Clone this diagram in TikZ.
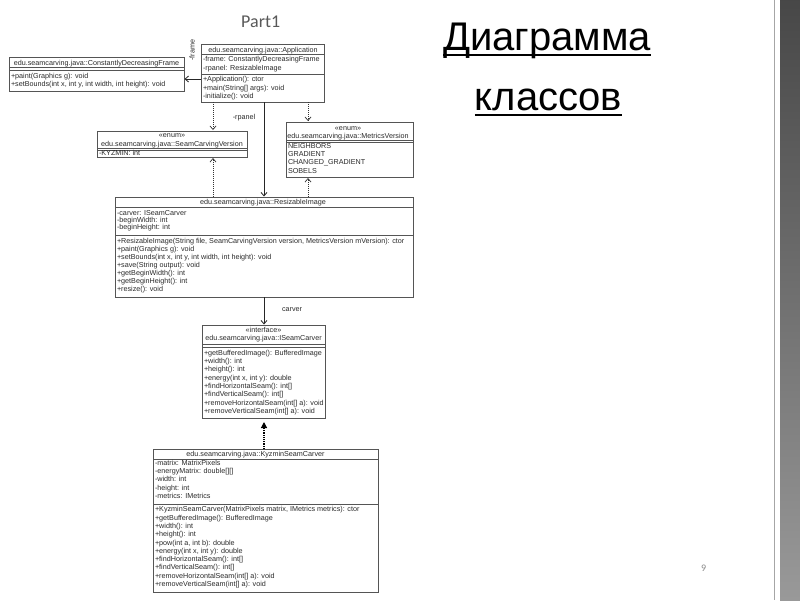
\documentclass[tikz,border=0pt]{standalone}
\usepackage{fontspec}
\setmainfont{Liberation Sans}
\newfontfamily\umlfont{Liberation Sans}
\newfontfamily\slidefont{Carlito}
\usetikzlibrary{arrows.meta,shadows,calc}
\definecolor{umltext}{HTML}{2A2A2A}
\definecolor{umlline}{HTML}{555555}
\definecolor{parttext}{HTML}{595959}
\definecolor{pagenum}{HTML}{8A8A8A}
\tikzset{
  umlbox/.style={draw=umlline, line width=0.6pt, fill=white, inner sep=0pt, outer sep=0pt, anchor=north west,
    general shadow={fill=black!85, shadow xshift=1.3pt, shadow yshift=-1.3pt}},
  umltxt/.style={font=\umlfont\fontsize{7.2}{8.2}\selectfont, text=umltext, inner sep=0pt, outer sep=0pt, align=left, anchor=north west,
    execute at begin node={\rule{0pt}{6pt}}},
  umlname/.style={font=\umlfont\fontsize{7.2}{8.2}\selectfont, text=umltext, inner sep=0pt, outer sep=0pt, anchor=base},
  umllabel/.style={font=\umlfont\fontsize{7.2}{8.2}\selectfont, text=umltext, inner sep=0pt, outer sep=0pt},
  sepline/.style={draw=umlline, line width=0.6pt},
  assoc/.style={draw=black!85, line width=0.8pt, -{Straight Barb[length=3.5pt,width=6pt]}, shorten >=0.5pt},
  depend/.style={draw=black!80, line width=0.7pt, dash pattern=on 1pt off 1pt, -{Straight Barb[length=3.5pt,width=6pt]}, shorten >=1pt},
  realize/.style={draw=black, line width=1.2pt, dash pattern=on 1.2pt off 1pt, -{Triangle[length=6pt,width=6pt]}, shorten >=4pt},
  titletxt/.style={font=\fontsize{40}{48}\selectfont, text=black, inner sep=0pt, outer sep=0pt, anchor=base},
}
\begin{document}
\begin{tikzpicture}[x=1pt,y=-1pt]
\useasboundingbox (0,0) rectangle (800,600);
\fill[white] (0,0) rectangle (800,600);

% right decoration
\draw[line width=1.5pt, black!35] (774.5,0) -- (774.5,600);
\shade[top color=black!72, middle color=black!95, bottom color=black!40] (780,0) rectangle (800,600);

% titles
\node[anchor=base west, font=\slidefont\fontsize{18}{21}\selectfont, text=parttext, inner sep=0pt] (part) at (241,27) {Part1};
\node[titletxt] (t1) at (547,50) {Диаграмма};
\node[titletxt] (t2) at (548.5,110) {классов};
\draw[line width=2.2pt] ([yshift=-5pt]t1.base west) -- ([yshift=-5pt]t1.base east);
\draw[line width=2.2pt] ([yshift=-5pt]t2.base west) -- ([yshift=-5pt]t2.base east);
\node[anchor=base west, font=\slidefont\fontsize{10}{12}\selectfont, text=pagenum, inner sep=0pt] (pnum) at (701,571) {9};

% boxes
\node[umlbox, minimum width=175pt, minimum height=34pt] (frame) at (9,57) {};
\node[umlbox, minimum width=123pt, minimum height=58pt] (app) at (201,44) {};
\node[umlbox, minimum width=150pt, minimum height=26pt] (scv) at (97,131) {};
\node[umlbox, minimum width=127pt, minimum height=55pt] (mv) at (286,122) {};
\node[umlbox, minimum width=298pt, minimum height=100pt] (ri) at (115,197) {};
\node[umlbox, minimum width=123pt, minimum height=93pt] (isc) at (202,325) {};
\node[umlbox, minimum width=225pt, minimum height=143pt] (ksc) at (153,449) {};

% separators
\draw[sepline] ([yshift=-10pt]frame.north west) -- ([yshift=-10pt]frame.north east);
\draw[sepline] ([yshift=-13pt]frame.north west) -- ([yshift=-13pt]frame.north east);
\draw[sepline] ([yshift=-10.5pt]app.north west) -- ([yshift=-10.5pt]app.north east);
\draw[sepline] ([yshift=-30pt]app.north west) -- ([yshift=-30pt]app.north east);
\draw[sepline] ([yshift=-17pt]scv.north west) -- ([yshift=-17pt]scv.north east);
\draw[sepline] ([yshift=-19.5pt]scv.north west) -- ([yshift=-19.5pt]scv.north east);
\draw[sepline] ([yshift=-18pt]mv.north west) -- ([yshift=-18pt]mv.north east);
\draw[sepline] ([yshift=-20pt]mv.north west) -- ([yshift=-20pt]mv.north east);
\draw[sepline] ([yshift=-10.5pt]ri.north west) -- ([yshift=-10.5pt]ri.north east);
\draw[sepline] ([yshift=-38.5pt]ri.north west) -- ([yshift=-38.5pt]ri.north east);
\draw[sepline] ([yshift=-19.5pt]isc.north west) -- ([yshift=-19.5pt]isc.north east);
\draw[sepline] ([yshift=-22pt]isc.north west) -- ([yshift=-22pt]isc.north east);
\draw[sepline] ([yshift=-10pt]ksc.north west) -- ([yshift=-10pt]ksc.north east);
\draw[sepline] ([yshift=-55pt]ksc.north west) -- ([yshift=-55pt]ksc.north east);

% texts: ConstantlyDecreasingFrame
\node[umlname] (frame-n) at (96.5,65) {edu.seamcarving.java::ConstantlyDecreasingFrame};
\node[umltxt, font=\umlfont\fontsize{7.2}{7.6}\selectfont] (frame-m) at (11,73.3) {+paint(Graphics g): void\\+setBounds(int x, int y, int width, int height): void};

% Application
\node[umlname] (app-n) at (263,52) {edu.seamcarving.java::Application};
\node[umltxt] (app-a) at (203,56.6) {-frame: ConstantlyDecreasingFrame\\-rpanel: ResizableImage};
\node[umltxt, font=\umlfont\fontsize{7.2}{8.3}\selectfont] (app-m) at (203,76.6) {+Application(): ctor\\+main(String[] args): void\\-initialize(): void};

% SeamCarvingVersion
\node[umlname] (scv-s) at (172,137) {«enum»};
\node[umlname] (scv-n) at (172,146) {edu.seamcarving.java::SeamCarvingVersion};
\node[umltxt] (scv-a) at (99,149) {-KYZMIN: int};

% MetricsVersion
\node[umlname] (mv-s) at (348,130.3) {«enum»};
\node[umlname] (mv-n) at (348,138.3) {edu.seamcarving.java::MetricsVersion};
\node[umltxt, font=\umlfont\fontsize{7.2}{8.3}\selectfont] (mv-a) at (288,143.3) {NEIGHBORS\\GRADIENT\\CHANGED\_GRADIENT\\SOBELS};

% ResizableImage
\node[umlname] (ri-n) at (263,204.3) {edu.seamcarving.java::ResizableImage};
\node[umltxt, font=\umlfont\fontsize{7.2}{7.4}\selectfont] (ri-a) at (117,210) {-carver: ISeamCarver\\-beginWidth: int\\-beginHeight: int};
\node[umltxt, font=\umlfont\fontsize{7.2}{8}\selectfont] (ri-m) at (117,238.3) {+ResizableImage(String file, SeamCarvingVersion version, MetricsVersion mVersion): ctor\\+paint(Graphics g): void\\+setBounds(int x, int y, int width, int height): void\\+save(String output): void\\+getBeginWidth(): int\\+getBeginHeight(): int\\+resize(): void};

% ISeamCarver
\node[umlname] (isc-s) at (263.5,332) {«interface»};
\node[umlname] (isc-n) at (263.5,340) {edu.seamcarving.java::ISeamCarver};
\node[umltxt, font=\umlfont\fontsize{7.2}{8.3}\selectfont] (isc-m) at (204,350) {+getBufferedImage(): BufferedImage\\+width(): int\\+height(): int\\+energy(int x, int y): double\\+findHorizontalSeam(): int[]\\+findVerticalSeam(): int[]\\+removeHorizontalSeam(int[] a): void\\+removeVerticalSeam(int[] a): void};

% KyzminSeamCarver
\node[umlname] (ksc-n) at (255.5,456.6) {edu.seamcarving.java::KyzminSeamCarver};
\node[umltxt, font=\umlfont\fontsize{7.2}{8.3}\selectfont] (ksc-a) at (155,460.1) {-matrix: MatrixPixels\\-energyMatrix: double[][]\\-width: int\\-height: int\\-metrics: IMetrics};
\node[umltxt, font=\umlfont\fontsize{7.2}{8.3}\selectfont] (ksc-m) at (155,506.6) {+KyzminSeamCarver(MatrixPixels matrix, IMetrics metrics): ctor\\+getBufferedImage(): BufferedImage\\+width(): int\\+height(): int\\+pow(int a, int b): double\\+energy(int x, int y): double\\+findHorizontalSeam(): int[]\\+findVerticalSeam(): int[]\\+removeHorizontalSeam(int[] a): void\\+removeVerticalSeam(int[] a): void};

% connector labels
\node[umllabel, rotate=90] (l-frame) at (192,50) {-frame};
\node[umllabel] (l-rpanel) at (244,117.5) {-rpanel};
\node[umllabel] (l-carver) at (292,310) {carver};

% connectors
\coordinate (cx1) at (213,0);
\coordinate (cx2) at (264,0);
\coordinate (cx3) at (308,0);
\coordinate (cy0) at (0,79);
\draw[assoc] (app.west |- cy0) -- (frame.east |- cy0);
\draw[depend] (app.south -| cx1) -- (scv.north -| cx1);
\draw[depend] (app.south -| cx3) -- (mv.north -| cx3);
\draw[assoc] (app.south -| cx2) -- (ri.north -| cx2);
\draw[depend] (ri.north -| cx1) -- (scv.south -| cx1);
\draw[depend] (ri.north -| cx3) -- (mv.south -| cx3);
\draw[assoc] (ri.south -| cx2) -- (isc.north -| cx2);
\draw[realize] (ksc.north -| cx2) -- (isc.south -| cx2);
\end{tikzpicture}
\end{document}
